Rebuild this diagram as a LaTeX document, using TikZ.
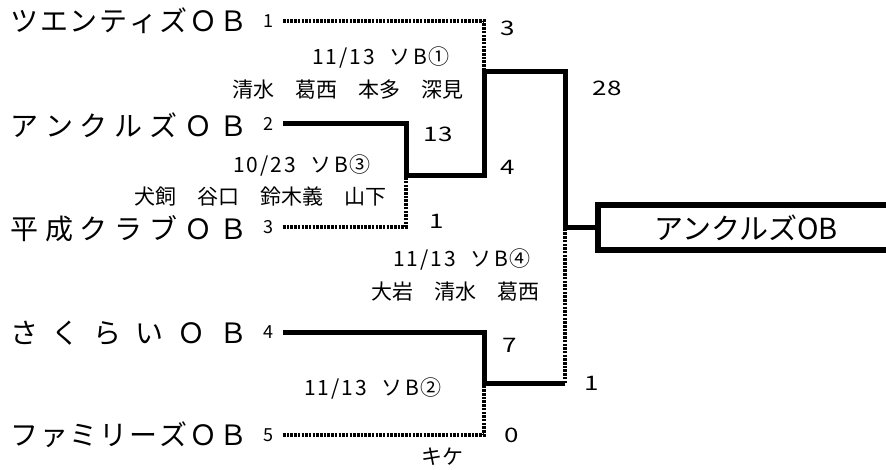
\documentclass[tikz,border=0pt]{standalone}
\usepackage{fontspec}
\setmainfont{Noto Sans CJK JP}
\newfontfamily\widefont[FakeStretch=1.3]{Noto Sans CJK JP}
\newfontfamily\datefont[LetterSpace=10]{Noto Sans CJK JP}
\makeatletter
\newcommand\spreadname[1]{\makebox[237pt][s]{\def\spsep{}\@tfor\spch:=#1\do{\spsep\spch\def\spsep{\hfil}}}}
\makeatother

\begin{document}
\begin{tikzpicture}[x=1pt, y=-1pt,
    team/.style = {anchor=west, inner sep=0pt, font=\fontsize{28}{28}\selectfont},
    seed/.style = {anchor=east, inner sep=0pt, outer xsep=10pt, font=\fontsize{18}{18}\selectfont},
    score/.style = {inner sep=0pt, font=\widefont\fontsize{20}{20}\selectfont},
    info/.style = {inner sep=0pt, font=\fontsize{21}{21}\selectfont},
    date/.style = {inner sep=0pt, font=\datefont\fontsize{21}{21}\selectfont},
    win/.style = {line width=5pt, line join=miter},
    lose/.style = {line width=3.2pt, dash pattern=on 2.5pt off 1.2pt},
    champ/.style = {draw, line width=6pt, anchor=west, outer sep=0pt, inner sep=0pt,
      minimum width=296pt, minimum height=45pt, font=\fontsize{29}{29}\selectfont}]
		\clip (0,0) rectangle (886,470);
		\fill[white] (0,0) rectangle (886,470);

		% teams and seeds
		\node[team] (t1) at (10,21) {\spreadname{ツエンティズＯＢ}};
		\node[team] (t2) at (10,125) {\spreadname{アンクルズＯＢ}};
		\node[team] (t3) at (10,229) {\spreadname{平成クラブＯＢ}};
		\node[team] (t4) at (10,333) {\spreadname{さくらいＯＢ}};
		\node[team] (t5) at (10,435) {\spreadname{ファミリーズＯＢ}};
		\node[seed] (n1) at (283,21) {1};
		\node[seed] (n2) at (283,124) {2};
		\node[seed] (n3) at (283,227) {3};
		\node[seed] (n4) at (283,332) {4};
		\node[seed] (n5) at (283,435) {5};

		% match corners
		\coordinate (m3) at (406,176);
		\coordinate (m1) at (484,72);
		\coordinate (m2) at (484,383);
		\coordinate (fin) at (565,228);

		% champion
		\node[champ] (champ) at (598,228) {アンクルズOB};

		% match info
		\node[date] (d1) at (381,58) {11/13\hspace{0.7em}ソB①};
		\node[info] (p1) at (348,90) {清水　葛西　本多　深見};
		\node[date] (d3) at (302,165) {10/23\hspace{0.7em}ソB③};
		\node[info] (p3) at (260,197) {犬飼　谷口　鈴木義　山下};
		\node[date] (d4) at (462,259) {11/13\hspace{0.7em}ソB④};
		\node[info] (p4) at (455,292) {大岩　清水　葛西};
		\node[date] (d2) at (373,388) {11/13\hspace{0.7em}ソB②};
		\node[info] (k2) at (442,457) {キケ};

		% scores
		\node[score] (s1) at (508,28) {3};
		\node[score] (s2) at (438,134) {13};
		\node[score] (s3) at (437,221) {1};
		\node[score] (s4) at (508,167) {4};
		\node[score] (s5) at (607,88) {28};
		\node[score] (s6) at (510,345) {7};
		\node[score] (s7) at (512,435) {0};
		\node[score] (s8) at (592,383) {1};

		% losers
		\draw[lose] (n1.east) -| (m1);
		\draw[lose] (n3.east) -| (m3);
		\draw[lose] (n5.east) -| (m2);
		\draw[lose] (m2 -| fin) -- (fin);

		% winners
		\draw[win] (n2.east) -| (m3) -| (m1) -| (fin) -- (champ.west);
		\draw[win] (n4.east) -| (m2) -- (m2 -| fin);
	\end{tikzpicture}
\end{document}
